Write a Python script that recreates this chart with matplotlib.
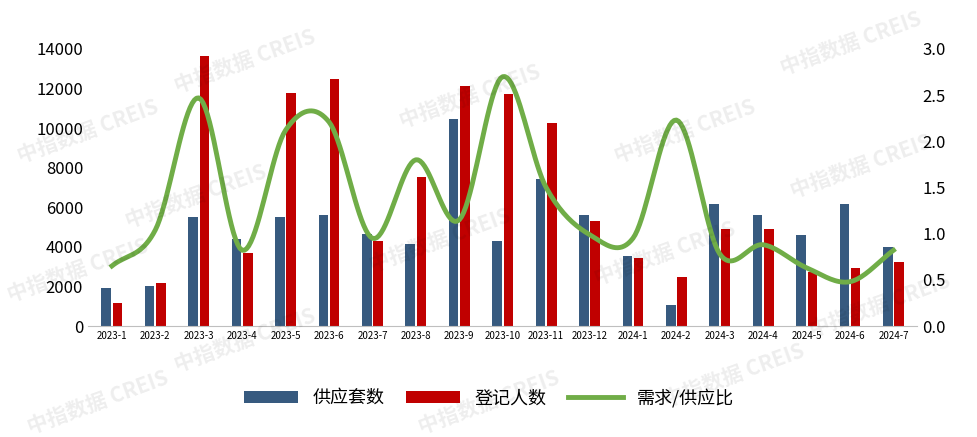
import numpy as np
import matplotlib
matplotlib.use("Agg")
import matplotlib.pyplot as plt
plt.rcParams["font.family"] = ["Noto Sans CJK SC"]

months = ["2023-1","2023-2","2023-3","2023-4","2023-5","2023-6","2023-7","2023-8","2023-9","2023-10",
          "2023-11","2023-12","2024-1","2024-2","2024-3","2024-4","2024-5","2024-6","2024-7"]
supply = [1900,2000,5500,4400,5500,5600,4650,4150,10450,4300,7420,5600,3550,1060,6160,5600,4600,6160,4000]
registered = [1160,2170,13640,3690,11770,12470,4300,7520,12120,11720,10250,5300,3430,2470,4900,4900,2730,2930,3230]
ratio = [0.65,1.04,2.47,0.82,2.12,2.21,0.95,1.80,1.15,2.70,1.50,0.99,0.95,2.23,0.78,0.88,0.63,0.48,0.82]

def catmull(x, y, n=20):
    x = np.asarray(x, float); y = np.asarray(y, float)
    px = np.concatenate([[2*x[0]-x[1]], x, [2*x[-1]-x[-2]]])
    py = np.concatenate([[2*y[0]-y[1]], y, [2*y[-1]-y[-2]]])
    xs, ys = [], []
    t = np.linspace(0, 1, n, endpoint=False)
    for i in range(1, len(px)-2):
        for arr, out in ((px, xs), (py, ys)):
            p0, p1, p2, p3 = arr[i-1], arr[i], arr[i+1], arr[i+2]
            out.extend(0.5*((2*p1) + (-p0+p2)*t + (2*p0-5*p1+4*p2-p3)*t**2 + (-p0+3*p1-3*p2+p3)*t**3))
    xs.append(x[-1]); ys.append(y[-1])
    return np.array(xs), np.array(ys)

fig = plt.figure(figsize=(9.78, 4.37), dpi=100)
ax = fig.add_axes([0.09, 0.254, 0.848, 0.634])
x = np.arange(len(months))
w = 0.22
ax.bar(x-0.13, supply, w, color="#375A7F", label="供应套数")
ax.bar(x+0.13, registered, w, color="#C00000", label="登记人数")
ax.set_ylim(0, 14000)
ax.set_yticks(range(0, 14001, 2000))
ax.set_xlim(-0.55, len(months)-0.45)
ax.set_xticks(x)
ax.set_xticklabels(months, fontsize=7)
ax.tick_params(axis="y", labelsize=12, length=0)
ax.tick_params(axis="x", length=0)
for s in ["top", "right", "left"]:
    ax.spines[s].set_visible(False)
ax.spines["bottom"].set_color("#BFBFBF")

ax2 = ax.twinx()
sx, sy = catmull(x, ratio)
ax2.plot(sx, sy, color="#70AD47", lw=3.5, label="需求/供应比")
ax2.set_ylim(0, 3.0)
ax2.set_yticks(np.arange(0, 3.01, 0.5))
ax2.set_yticklabels([f"{v:.1f}" for v in np.arange(0, 3.01, 0.5)])
ax2.tick_params(axis="y", labelsize=12, length=0)
for s in ["top", "right", "left", "bottom"]:
    ax2.spines[s].set_visible(False)

h1, l1 = ax.get_legend_handles_labels()
h2, l2 = ax2.get_legend_handles_labels()
fig.legend(h1+h2, l1+l2, loc="center", bbox_to_anchor=(0.5, 0.09), ncol=3, frameon=False,
           fontsize=13, handlelength=3, columnspacing=1.2)

for (px_, py_) in [(0.25,0.86),(0.48,0.78),(0.7,0.7),(0.87,0.9),(0.09,0.7),(0.2,0.55),(0.45,0.45),
                   (0.68,0.42),(0.88,0.62),(0.08,0.38),(0.25,0.22),(0.5,0.08),(0.75,0.14),(0.9,0.3),(0.1,0.08)]:
    fig.text(px_, py_, "中指数据 CREIS", fontsize=15, fontweight="bold", color="#000000", alpha=0.07,
             rotation=20, ha="center", va="center")

fig.savefig("out.png", dpi=100)
